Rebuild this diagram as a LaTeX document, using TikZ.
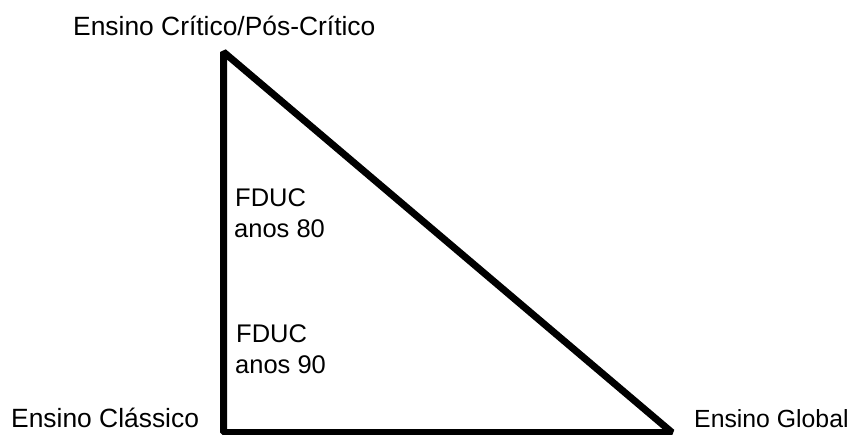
\documentclass[tikz,border=0pt]{standalone}
\usepackage{fontspec}
\setmainfont{Liberation Sans}
\begin{document}
\begin{tikzpicture}[x=1pt,y=-1pt,
  lbl/.style={inner sep=0pt,anchor=base west,font=\fontsize{25.5}{30}\selectfont},
  big/.style={font=\fontsize{26.4}{30}\selectfont},
  edge/.style={line width=7pt,line join=bevel}]
\useasboundingbox (0,0) rectangle (856,435);
\coordinate (top) at (223.5,52);
\coordinate (bl) at (223.5,432.5);
\coordinate (br) at (672,432.5);
\draw[edge] (top) -- (bl) -- (br) -- cycle;
\node[lbl,big] (critico) at (73,36) {Ensino Crítico/Pós-Crítico};
\node[lbl,big] (classico) at (11,427.5) {Ensino Clássico};
\node[lbl,font=\fontsize{24.8}{30}\selectfont] (global) at (694,427.5) {Ensino Global};
\node[lbl] (f80a) at (235,207) {FDUC};
\node[lbl] (f80b) at (234,238) {anos 80};
\node[lbl] (f90a) at (236,342) {FDUC};
\node[lbl] (f90b) at (235,373) {anos 90};
\end{tikzpicture}
\end{document}
